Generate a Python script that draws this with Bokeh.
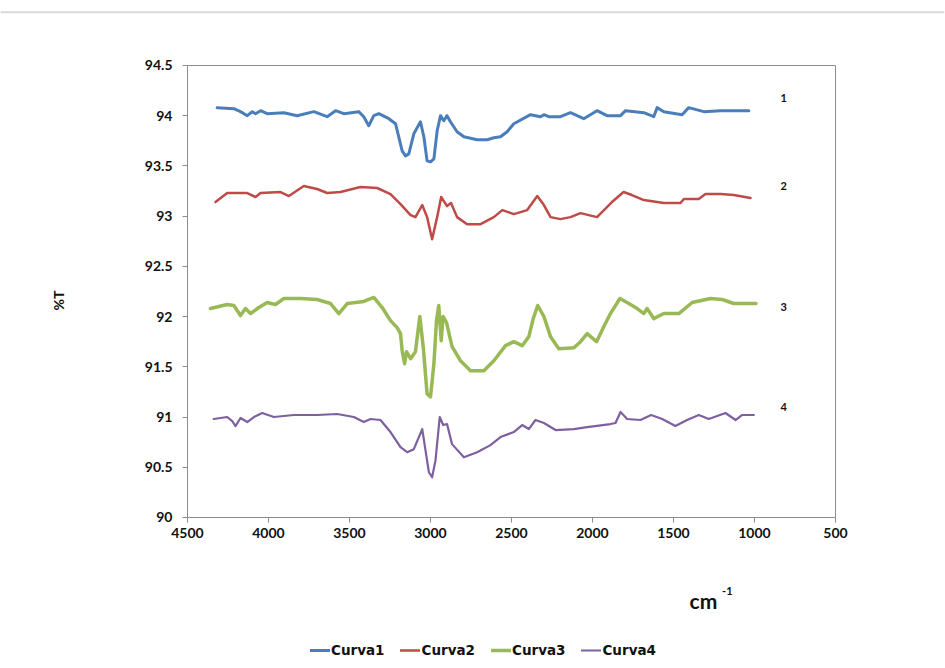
import math
from bokeh.plotting import figure
from bokeh.models import (Range1d, FixedTicker, NumeralTickFormatter, Label, Legend, LegendItem,
                          LinearAxis, Span)
from bokeh.embed import file_html
from bokeh.resources import INLINE

# ---- data ----
c1_wn = [4317, 4214, 4173, 4131, 4100, 4080, 4049, 4008, 3905, 3823, 3720, 3638, 3586, 3535, 3443, 3412, 3381, 3350, 3319, 3257,
         3216, 3196, 3175, 3154, 3134, 3103, 3062, 3041, 3021, 3000, 2979, 2959, 2938, 2918, 2898, 2877, 2836, 2794, 2712, 2650,
         2609, 2568, 2527, 2486, 2383, 2321, 2300, 2270, 2198, 2136, 2054, 1972, 1910, 1827, 1796, 1683, 1622, 1601, 1560, 1447,
         1406, 1313, 1210, 1035]
c1_T = [94.08, 94.07, 94.04, 94.00, 94.04, 94.02, 94.05, 94.02, 94.03, 94.00, 94.04, 93.99, 94.05, 94.02, 94.04, 93.99, 93.90, 94.00, 94.02, 93.97,
        93.92, 93.79, 93.65, 93.60, 93.62, 93.82, 93.94, 93.79, 93.55, 93.54, 93.57, 93.85, 94.00, 93.95, 94.00, 93.94, 93.84, 93.79, 93.76, 93.76,
        93.78, 93.79, 93.84, 93.92, 94.01, 93.99, 94.01, 93.99, 93.99, 94.03, 93.97, 94.05, 94.00, 94.00, 94.05, 94.03, 93.99, 94.08, 94.04, 94.01,
        94.08, 94.04, 94.05, 94.05]

c2_wn = [4327, 4255, 4131, 4080, 4049, 3926, 3874, 3782, 3700, 3638, 3556, 3432, 3329, 3247, 3185, 3123, 3093, 3051, 3021, 2990,
         2959, 2934, 2898, 2873, 2836, 2774, 2691, 2609, 2557, 2486, 2403, 2341, 2300, 2259, 2198, 2136, 2074, 1972, 1880, 1808,
         1757, 1683, 1560, 1457, 1436, 1344, 1303, 1210, 1128, 1025]
c2_T = [93.14, 93.23, 93.23, 93.19, 93.23, 93.24, 93.20, 93.30, 93.27, 93.23, 93.24, 93.29, 93.28, 93.22, 93.12, 93.01, 92.99, 93.11, 92.99, 92.77,
        92.99, 93.19, 93.10, 93.13, 92.99, 92.92, 92.92, 92.99, 93.06, 93.02, 93.06, 93.20, 93.11, 92.99, 92.97, 92.99, 93.03, 92.99, 93.14, 93.24,
        93.21, 93.16, 93.13, 93.13, 93.17, 93.17, 93.22, 93.22, 93.21, 93.18]

c3_wn = [4358, 4255, 4214, 4173, 4142, 4111, 4060, 4008, 3957, 3905, 3802, 3700, 3617, 3566, 3514, 3412, 3350, 3298, 3247, 3206,
         3185, 3175, 3160, 3148, 3123, 3093, 3066, 3045, 3021, 3000, 2979, 2963, 2949, 2934, 2922, 2901, 2867, 2815, 2753, 2671,
         2609, 2537, 2486, 2434, 2393, 2366, 2338, 2300, 2259, 2208, 2115, 2074, 2033, 1975, 1930, 1889, 1831, 1776, 1724, 1683,
         1663, 1622, 1560, 1467, 1385, 1272, 1200, 1128, 991]
c3_T = [92.08, 92.12, 92.11, 92.01, 92.08, 92.03, 92.09, 92.14, 92.12, 92.18, 92.18, 92.17, 92.13, 92.03, 92.13, 92.15, 92.19, 92.09, 91.96, 91.89,
        91.83, 91.66, 91.53, 91.65, 91.58, 91.65, 92.00, 91.70, 91.23, 91.20, 91.53, 91.96, 92.11, 91.76, 92.00, 91.94, 91.70, 91.56, 91.46, 91.46,
        91.56, 91.71, 91.75, 91.71, 91.80, 91.98, 92.11, 92.00, 91.80, 91.68, 91.69, 91.75, 91.83, 91.75, 91.90, 92.03, 92.18, 92.13, 92.08, 92.03,
        92.08, 91.98, 92.03, 92.03, 92.14, 92.18, 92.17, 92.13, 92.13]

c4_wn = [4338, 4255, 4224, 4204, 4173, 4131, 4090, 4039, 3967, 3844, 3700, 3576, 3473, 3412, 3370, 3309, 3247, 3185, 3144, 3103,
         3051, 3031, 3010, 2990, 2969, 2943, 2922, 2898, 2867, 2794, 2712, 2630, 2568, 2486, 2434, 2393, 2352, 2300, 2228, 2115,
         2033, 1889, 1858, 1827, 1786, 1704, 1638, 1570, 1488, 1416, 1344, 1282, 1179, 1117, 1076, 1004]
c4_T = [90.98, 91.00, 90.96, 90.91, 90.99, 90.95, 91.00, 91.04, 91.00, 91.02, 91.02, 91.03, 91.00, 90.95, 90.98, 90.97, 90.85, 90.70, 90.65, 90.68,
        90.88, 90.67, 90.45, 90.40, 90.57, 91.00, 90.92, 90.93, 90.73, 90.60, 90.65, 90.72, 90.80, 90.85, 90.92, 90.88, 90.97, 90.94, 90.87, 90.88,
        90.90, 90.93, 90.94, 91.05, 90.98, 90.97, 91.02, 90.98, 90.91, 90.97, 91.02, 90.98, 91.04, 90.97, 91.02, 91.02]

series_names = ["Curva1", "Curva2", "Curva3", "Curva4"]
curve_tags = ["1", "2", "3", "4"]
tag_wn = [840, 840, 840, 840]
tag_T = [94.18, 93.30, 92.10, 91.10]
x_ticks = [4500, 4000, 3500, 3000, 2500, 2000, 1500, 1000, 500]
y_ticks = [90, 90.5, 91, 91.5, 92, 92.5, 93, 93.5, 94, 94.5]

colors = ["#4A7EBB", "#BE4B48", "#98B954", "#7D60A0"]
widths = [3, 2.5, 3.5, 2.2]

FONT = "Lato"
AXIS_GRAY = "#8C8C8C"
TEXT = "#111111"
X_MIN, X_MAX = 500, 4500
Y_MIN, Y_MAX = 90, 94.5

# The frame covers the whole page so that axis titles, unit label and legend all sit inside it;
# the axes are pinned to the data box 4500..500 x 90..94.5.
p = figure(frame_width=944, frame_height=661,
           min_border_left=0, min_border_right=1, min_border_top=5, min_border_bottom=0,
           x_range=Range1d(5654.3, -172.8), y_range=Range1d(88.516, 95.097),
           output_backend="svg", toolbar_location=None)
p.background_fill_color = "white"
p.border_fill_color = "white"
p.outline_line_color = None
p.xgrid.visible = False
p.ygrid.visible = False

for ax in (p.xaxis[0], p.yaxis[0]):
    ax.axis_line_color = AXIS_GRAY
    ax.major_tick_line_color = AXIS_GRAY
    ax.major_tick_in = 0
    ax.major_tick_out = 5
    ax.minor_tick_line_color = None
    ax.major_label_text_font = FONT
    ax.major_label_text_font_style = "bold"
    ax.major_label_text_font_size = "14px"
    ax.major_label_text_color = TEXT

p.xaxis.ticker = FixedTicker(ticks=x_ticks)
p.yaxis.ticker = FixedTicker(ticks=y_ticks)
p.yaxis.formatter = NumeralTickFormatter(format="0.[0]")
p.xaxis.formatter = NumeralTickFormatter(format="0")
p.xaxis.major_label_standoff = 6
p.yaxis.major_label_standoff = 10
p.xaxis.fixed_location = Y_MIN
p.yaxis.fixed_location = X_MAX
p.xaxis.bounds = (X_MIN, X_MAX)
p.yaxis.bounds = (Y_MIN, Y_MAX)

# plot-area border on top and right
top_border = LinearAxis(fixed_location=Y_MAX, bounds=(X_MIN, X_MAX), ticker=FixedTicker(ticks=[]),
                        axis_line_color=AXIS_GRAY, major_tick_line_color=None, minor_tick_line_color=None,
                        major_label_text_font_size="0px")
right_border = LinearAxis(fixed_location=X_MIN, bounds=(Y_MIN, Y_MAX), ticker=FixedTicker(ticks=[]),
                          axis_line_color=AXIS_GRAY, major_tick_line_color=None, minor_tick_line_color=None,
                          major_label_text_font_size="0px")
p.add_layout(top_border, "above")
p.add_layout(right_border, "right")

# light rule across the top of the page
p.add_layout(Span(location=95.03, dimension="width", line_color="#D9D9D9", line_width=2))

wns = [c1_wn, c2_wn, c3_wn, c4_wn]
Ts = [c1_T, c2_T, c3_T, c4_T]
renderers = []
for wn, T, c, w in zip(wns, Ts, colors, widths):
    r = p.line(wn, T, line_color=c, line_width=w, line_join="round", line_cap="round")
    renderers.append(r)

for t, xw, yt in zip(curve_tags, tag_wn, tag_T):
    p.add_layout(Label(x=xw, y=yt, text=t, text_font=FONT, text_font_style="bold",
                       text_font_size="11px", text_color=TEXT,
                       text_align="left", text_baseline="middle"))

# y axis title
p.add_layout(Label(x=5296, y=92.16, text="%T", angle=math.pi / 2, text_font=FONT, text_font_style="bold",
                   text_font_size="14px", text_color=TEXT, text_align="center", text_baseline="middle"))

# x axis unit label: cm^-1
p.add_layout(Label(x=1315, y=89.17, text="cm", text_font=FONT, text_font_style="bold",
                   text_font_size="21px", text_color=TEXT, text_align="center", text_baseline="middle"))
p.add_layout(Label(x=1200, y=89.27, text="-1", text_font=FONT, text_font_style="bold",
                   text_font_size="11px", text_color=TEXT, text_align="left", text_baseline="middle"))

items = [LegendItem(label=n, renderers=[r]) for n, r in zip(series_names, renderers)]
legend = Legend(items=items, orientation="horizontal", location=(310, 8),
                label_text_font="DejaVu Sans", label_text_font_style="bold", label_text_font_size="13.5px",
                label_text_color=TEXT, glyph_width=20, glyph_height=14, label_standoff=1,
                spacing=16, padding=0, margin=0, border_line_color=None,
                background_fill_alpha=0)
p.add_layout(legend, "center")

open("out.html", "w").write(file_html(p, INLINE))
